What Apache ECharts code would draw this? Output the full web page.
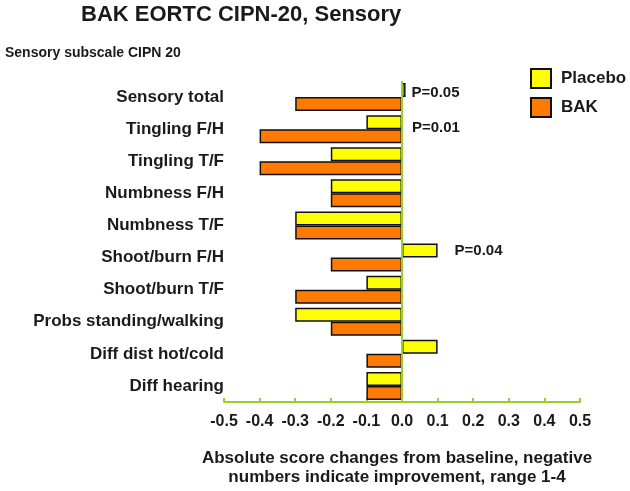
<!DOCTYPE html>
<html>
<head>
    <meta charset="utf-8">
    <title>BAK EORTC CIPN-20</title>
    <script src="https://cdn.jsdelivr.net/npm/echarts@6/dist/echarts.min.js"></script>
    <style>
        html, body { margin: 0; padding: 0; background: #fff; }
        #main { width: 630px; height: 491px; }
    </style>
</head>
<body>
<div id="main"></div>
<script type="text/javascript">
    // categories top to bottom
    var categories = ['Sensory total', 'Tingling F/H', 'Tingling T/F', 'Numbness F/H', 'Numbness T/F',
        'Shoot/burn F/H', 'Shoot/burn T/F', 'Probs standing/walking', 'Diff dist hot/cold', 'Diff hearing'];
    var placebo = [0.01, -0.1, -0.2, -0.2, -0.3, 0.1, -0.1, -0.3, 0.1, -0.1];
    var bak = [-0.3, -0.4, -0.4, -0.2, -0.3, -0.2, -0.3, -0.2, -0.1, -0.1];

    // p-value notes
    var pCategories = ['Sensory total', 'Tingling F/H', 'Shoot/burn F/H'];
    var pX = [0.01, 0.0, 0.1];
    var pTexts = ['P=0.05', 'P=0.01', 'P=0.04'];
    var pOffsets = [[6, -4], [10, -1], [17, -7]];

    var FONT = 'Liberation Sans, Arial, sans-serif';
    var GREEN = '#9acd32';
    var TEXT = '#1a1a1a';

    var chart = echarts.init(document.getElementById('main'));

    var option = {
        backgroundColor: '#fff',
        animation: false,
        title: [{
            text: 'BAK EORTC CIPN-20, Sensory',
            left: 81,
            top: 4,
            padding: 0,
            textStyle: { fontFamily: FONT, fontSize: 22, fontWeight: 'bold', color: TEXT }
        }, {
            text: 'Sensory subscale CIPN 20',
            left: 5,
            top: 46,
            padding: 0,
            textStyle: { fontFamily: FONT, fontSize: 14, fontWeight: 'bold', color: TEXT }
        }],
        legend: {
            orient: 'vertical',
            left: 530,
            top: 68,
            padding: 0,
            itemWidth: 20,
            itemHeight: 19,
            itemGap: 8,
            icon: 'rect',
            data: ['Placebo', 'BAK'],
            textStyle: { fontFamily: FONT, fontSize: 17, fontWeight: 'bold', color: TEXT, padding: [0, 0, 0, 5] }
        },
        grid: {
            left: 224,
            right: 50,
            top: 81,
            bottom: 89,
            outerBoundsMode: 'none'
        },
        xAxis: {
            type: 'value',
            min: -0.5,
            max: 0.5,
            interval: 0.1,
            name: 'Absolute score changes from baseline, negative\nnumbers indicate improvement, range 1-4',
            nameLocation: 'middle',
            nameGap: 47,
            nameTextStyle: {
                fontFamily: FONT, fontSize: 17, fontWeight: 'bold', color: TEXT,
                lineHeight: 19, padding: [0, 10, 0, 0]
            },
            axisLine: { show: true, onZero: false, lineStyle: { color: GREEN, width: 2 } },
            axisTick: { show: true, inside: true, length: 4, lineStyle: { color: GREEN, width: 2 } },
            splitLine: { show: false },
            axisLabel: {
                margin: 12,
                fontFamily: FONT, fontSize: 16, fontWeight: 'bold', color: TEXT,
                formatter: function (v) { return v.toFixed(1); }
            }
        },
        yAxis: {
            type: 'category',
            data: categories,
            inverse: true,
            axisLine: { show: false },
            axisTick: { show: false },
            axisLabel: { margin: 0, fontFamily: FONT, fontSize: 17, fontWeight: 'bold', color: TEXT }
        },
        series: [{
            name: 'Placebo',
            type: 'bar',
            data: placebo,
            barWidth: 14,
            barGap: '0%',
            itemStyle: { color: '#ffff00', borderColor: '#111', borderWidth: 1.5 },
            markLine: {
                silent: true,
                symbol: 'none',
                label: { show: false },
                lineStyle: { color: GREEN, width: 2, type: 'solid' },
                data: [{ xAxis: 0 }]
            }
        }, {
            name: 'BAK',
            type: 'bar',
            data: bak,
            barWidth: 14,
            barGap: '0%',
            itemStyle: { color: '#ff7a00', borderColor: '#111', borderWidth: 1.5 }
        }, {
            name: 'notes',
            type: 'scatter',
            symbolSize: 0,
            silent: true,
            itemStyle: { opacity: 1, color: 'rgba(0,0,0,0)' },
            label: {
                show: true,
                position: 'right',
                distance: 0,
                fontFamily: FONT, fontSize: 15, fontWeight: 'bold', color: TEXT, opacity: 1,
                formatter: function (p) { return pTexts[p.dataIndex]; }
            },
            data: pCategories.map(function (c, i) {
                return {
                    value: [pX[i], c],
                    label: { offset: pOffsets[i] }
                };
            })
        }]
    };

    chart.setOption(option);
</script>
</body>
</html>
